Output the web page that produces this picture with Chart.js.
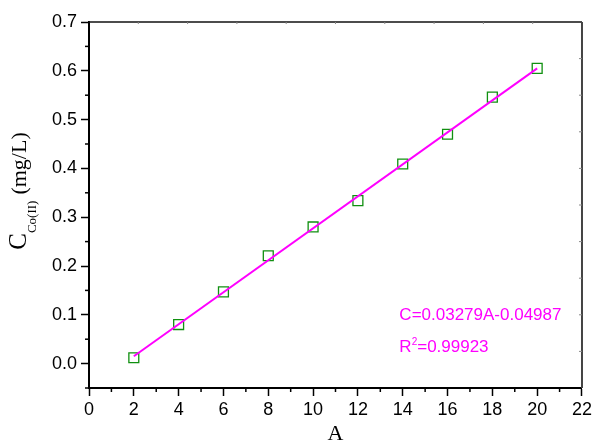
<!DOCTYPE html>
<html>
<head>
<meta charset="utf-8">
<script src="https://cdn.jsdelivr.net/npm/chart.js@4/dist/chart.umd.min.js"></script>
<style>
  html, body { margin: 0; padding: 0; background: #fff; }
  canvas { display: block; }
</style>
</head>
<body>
<canvas id="graph" width="595" height="441"></canvas>
<script>
// values
const aValues   = [2, 4, 6, 8, 10, 12, 14, 16, 18, 20]
const cValues   = [0.012, 0.080, 0.147, 0.221, 0.280, 0.334, 0.409, 0.470, 0.546, 0.605]
const fitA      = [2, 20]
const fitC      = [0.015, 0.605]
const xTicks    = [0, 2, 4, 6, 8, 10, 12, 14, 16, 18, 20, 22]
const yTicks    = [0.0, 0.1, 0.2, 0.3, 0.4, 0.5, 0.6, 0.7]
const equation  = 'C=0.03279A-0.04987'
const rSquared  = '=0.99923'

const tickFont = { family: '"Liberation Sans", Arial, sans-serif', size: 18 }

// minor ticks, y-axis title with subscript, frame and fit text
const extras = {
    id: 'extras',
    afterDraw(chart) {
        const ctx = chart.ctx
        const { left, right, top, bottom } = chart.chartArea
        const xs = chart.scales.x
        const ys = chart.scales.y

        ctx.save()
        // minor ticks outward
        ctx.strokeStyle = '#000'
        ctx.lineWidth = 1.5
        for (let i = 0; i < xTicks.length - 1; i++) {
            const px = xs.getPixelForValue((xTicks[i] + xTicks[i + 1]) / 2)
            ctx.beginPath(); ctx.moveTo(px, bottom); ctx.lineTo(px, bottom + 4); ctx.stroke()
        }
        const yMinor = [-0.05]
        for (let i = 0; i < yTicks.length - 1; i++) yMinor.push((yTicks[i] + yTicks[i + 1]) / 2)
        yMinor.forEach(v => {
            const py = ys.getPixelForValue(v)
            ctx.beginPath(); ctx.moveTo(left - 4, py); ctx.lineTo(left, py); ctx.stroke()
        })

        // top and right frame
        ctx.strokeStyle = '#111'
        ctx.lineWidth = 1.5
        ctx.beginPath(); ctx.moveTo(left, top); ctx.lineTo(right, top); ctx.stroke()
        ctx.strokeStyle = '#444'
        ctx.lineWidth = 2
        ctx.beginPath(); ctx.moveTo(right, top); ctx.lineTo(right, bottom); ctx.stroke()

        // small inward ticks on top and right
        ctx.strokeStyle = '#888'
        ctx.lineWidth = 1
        for (let i = 1; i < 10; i++) {
            const px = left + (right - left) * i / 10
            ctx.beginPath(); ctx.moveTo(px, top); ctx.lineTo(px, top + 2); ctx.stroke()
            const py = top + (bottom - top) * i / 10
            ctx.beginPath(); ctx.moveTo(right, py); ctx.lineTo(right - 3, py); ctx.stroke()
        }

        // fit text
        ctx.fillStyle = '#ff00ff'
        ctx.textBaseline = 'alphabetic'
        ctx.textAlign = 'left'
        const tx = xs.getPixelForValue(13.85)
        ctx.font = '17px "Liberation Sans", Arial, sans-serif'
        ctx.fillText(equation, tx, ys.getPixelForValue(0.089))
        const ry = ys.getPixelForValue(0.024)
        ctx.fillText('R', tx, ry)
        const rw = ctx.measureText('R').width
        ctx.font = '10px "Liberation Sans", Arial, sans-serif'
        ctx.fillText('2', tx + rw, ry - 7)
        const sw = ctx.measureText('2').width
        ctx.font = '17px "Liberation Sans", Arial, sans-serif'
        ctx.fillText(rSquared, tx + rw + sw, ry)

        // y-axis title: C with subscript Co(II), then (mg/L)
        ctx.fillStyle = '#000'
        ctx.translate(26, 191)
        ctx.rotate(-Math.PI / 2)
        const serif = '"Liberation Serif", "Times New Roman", serif'
        ctx.font = '25px ' + serif
        const wC = ctx.measureText('C').width
        ctx.font = '22px ' + serif
        const wU = ctx.measureText('(mg/L)').width
        ctx.font = '13px ' + serif
        const wS = ctx.measureText('Co(II)').width
        const gap = 6
        let x0 = -(wC + wS + gap + wU) / 2
        ctx.font = '25px ' + serif
        ctx.fillText('C', x0, 0)
        ctx.font = '13px ' + serif
        ctx.fillText('Co(II)', x0 + wC, 10)
        ctx.font = '22px ' + serif
        ctx.fillText('(mg/L)', x0 + wC + wS + gap, 0)
        ctx.restore()
    }
}

new Chart(document.getElementById('graph'), {
    type: 'scatter',
    data: {
        datasets: [{
            label: 'fit',
            data: fitA.map((a, i) => ({ x: a, y: fitC[i] })),
            showLine: true,
            borderColor: '#ff00ff',
            borderWidth: 2,
            pointRadius: 0,
            order: 0
        }, {
            label: 'C',
            data: aValues.map((a, i) => ({ x: a, y: cValues[i] })),
            pointStyle: 'rect',
            pointRadius: 7,
            borderColor: '#109010',
            borderWidth: 1.3,
            backgroundColor: 'rgba(0,0,0,0)',
            order: 1
        }]
    },
    options: {
        responsive: false,
        animation: false,
        layout: { padding: { top: 22, right: 12, left: 0, bottom: 0 } },
        plugins: {
            legend: { display: false },
            tooltip: { enabled: false }
        },
        scales: {
            x: {
                type: 'linear',
                min: 0,
                max: 22,
                afterBuildTicks: s => { s.ticks = xTicks.map(v => ({ value: v })) },
                afterFit: s => { s.height = 53 },
                border: { display: true, color: '#000', width: 2 },
                grid: { drawOnChartArea: false, tickLength: 8, tickWidth: 1.5, tickColor: '#000' },
                ticks: { font: tickFont, color: '#000', padding: 3, maxRotation: 0,
                         callback: v => String(v) },
                title: { display: true, text: 'A', color: '#000',
                         font: { family: '"Liberation Serif", "Times New Roman", serif', size: 22 },
                         padding: { top: 0, bottom: -6 } }
            },
            y: {
                type: 'linear',
                min: -0.05,
                max: 0.7,
                afterBuildTicks: s => { s.ticks = yTicks.map(v => ({ value: v })) },
                afterFit: s => { s.width = 89 },
                border: { display: true, color: '#000', width: 2 },
                grid: { drawOnChartArea: false, tickLength: 8, tickWidth: 1.5, tickColor: '#000' },
                ticks: { font: tickFont, color: '#000', padding: 4,
                         callback: v => Number(v).toFixed(1) }
            }
        }
    },
    plugins: [extras]
})
</script>
</body>
</html>
